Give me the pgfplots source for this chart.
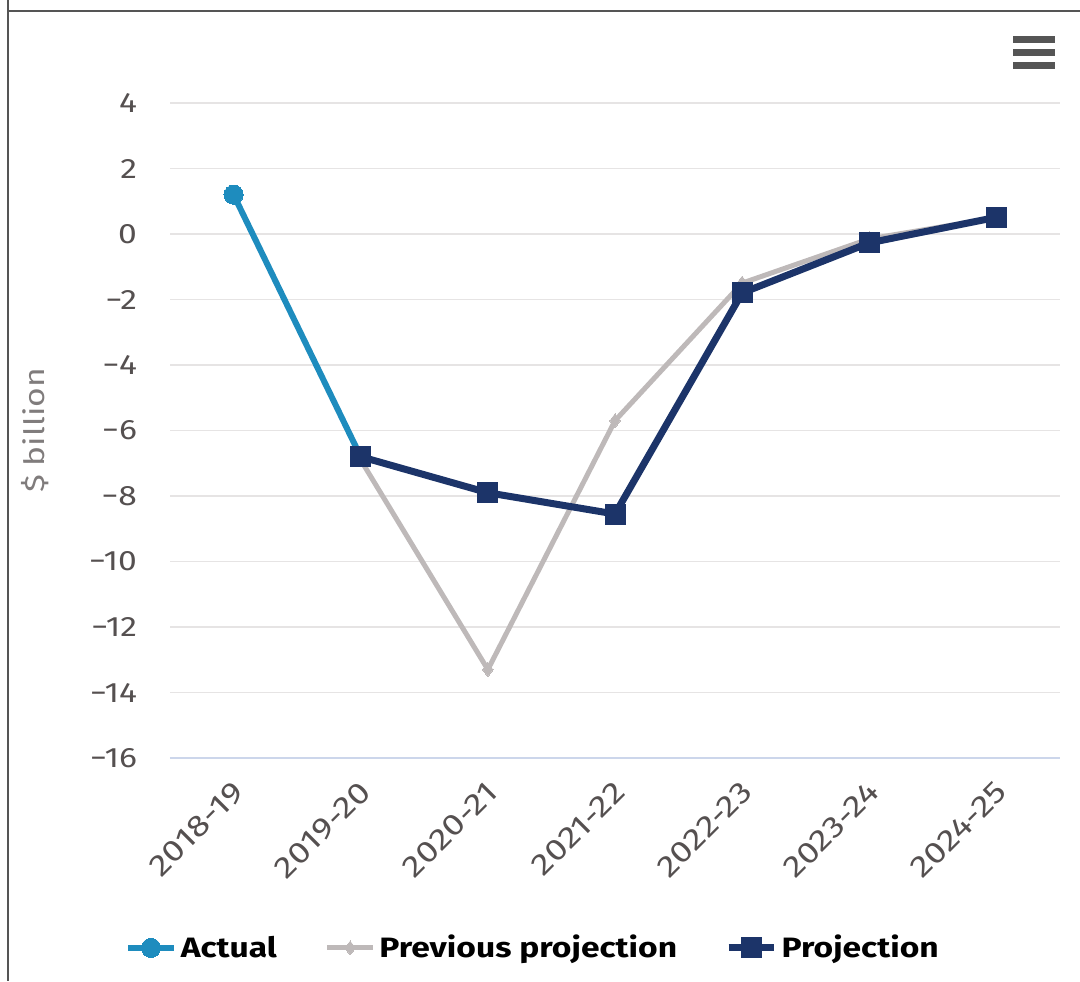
\documentclass[border=0pt]{standalone}
\usepackage{pgfplots}
\pgfplotsset{compat=1.18}
\usepackage{fontspec}
\setmainfont{Fira Sans}[FakeStretch=1.2]

\definecolor{actual}{RGB}{30,140,190}
\definecolor{prevproj}{RGB}{190,185,185}
\definecolor{proj}{RGB}{28,52,105}
\definecolor{ticktext}{RGB}{85,80,80}
\definecolor{gridc}{RGB}{230,228,228}
\definecolor{axisc}{RGB}{204,214,235}
\definecolor{framec}{RGB}{85,85,85}

\begin{document}
\begin{tikzpicture}
  % page: 1080 x 981 px at 0.5pt per px
  \path[use as bounding box] (0,0) rectangle (540pt,490.5pt);

  \begin{axis}[
      at={(85pt,111.5pt)}, anchor=south west,
      scale only axis,
      width=445pt, height=327.5pt,
      xmin=-0.5, xmax=6.5,
      ymin=-16, ymax=4,
      xtick={0,...,6},
      xticklabels={2018-19,2019-20,2020-21,2021-22,2022-23,2023-24,2024-25},
      ytick={-16,-14,...,4},
      yticklabels={−16,−14,−12,−10,−8,−6,−4,−2,0,2,4},
      major tick length=0pt,
      axis lines*=left,
      y axis line style={draw=none},
      x axis line style={draw=axisc, line width=1pt},
      ymajorgrids=true,
      grid style={gridc, line width=0.8pt},
      tick label style={font=\fontsize{14}{16}\selectfont, text=ticktext},
      yticklabel style={anchor=east, xshift=-13pt},
      xticklabel style={rotate=45, anchor=east, xshift=-5pt, yshift=-12pt,
                        font=\fontsize{15}{17}\selectfont},
      ylabel={\$ billion},
      ylabel style={at={(axis description cs:-0.1517,0.5)}, anchor=center,
                    font=\fontsize{14}{16}\selectfont, text=ticktext!75},
      legend style={at={(0.409,-0.29)}, anchor=center, legend columns=3,
                    draw=none, fill=none,
                    font=\bfseries\fontsize{14}{16}\selectfont,
                    /tikz/every even column/.append style={column sep=22pt}},
      legend image code/.code={%
        \draw[mark repeat=2, mark phase=2] plot coordinates {(0cm,0cm) (0.4cm,0cm) (0.8cm,0cm)};},
      clip=false,
    ]

    \addplot[color=actual, line width=3pt, mark=*, mark size=4.8pt,
             mark options={solid, fill=actual, draw=actual, line width=0pt}]
      coordinates { (0,1.2) (1,-6.8) };
    \addlegendentry{Actual}

    \addplot[color=prevproj, line width=2.5pt, mark=diamond*, mark size=3.5pt,
             mark options={solid, fill=prevproj, draw=prevproj, line width=0pt}]
      coordinates { (1,-6.9) (2,-13.3) (3,-5.7) (4,-1.5) (5,-0.15) (6,0.5) };
    \addlegendentry{Previous projection}

    \addplot[color=proj, line width=3.5pt, mark=square*, mark size=5pt,
             mark options={solid, fill=proj, draw=proj, line width=0pt}]
      coordinates { (1,-6.8) (2,-7.9) (3,-8.55) (4,-1.8) (5,-0.27) (6,0.51) };
    \addlegendentry{Projection}

  \end{axis}

  % frame (top and left edges)
  \draw[framec, line width=1pt] (4pt,490.5pt) -- (4pt,485pt) -- (540pt,485pt);
  \draw[framec, line width=1pt] (4pt,485pt) -- (4pt,0pt);

  % menu icon
  \foreach \yy in {470.75pt,464.25pt,457.75pt}
    \draw[framec, line width=3.5pt] (506.5pt,\yy) -- (527.5pt,\yy);
\end{tikzpicture}
\end{document}
